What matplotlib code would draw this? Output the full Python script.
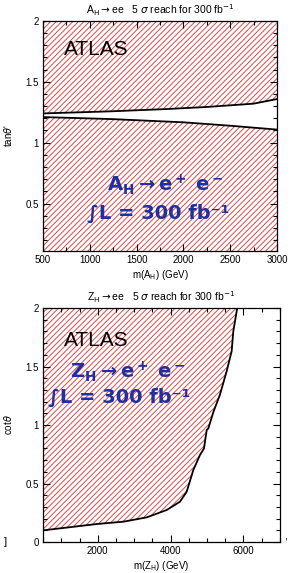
import matplotlib
matplotlib.use("Agg")
import matplotlib.pyplot as plt
import numpy as np

plt.rcParams["font.family"] = ["Liberation Sans", "DejaVu Sans"]
plt.rcParams["mathtext.fontset"] = "dejavusans"
plt.rcParams["hatch.color"] = "#e04848"
plt.rcParams["hatch.linewidth"] = 0.7

# A_H panel: boundaries of the unreachable band in tan(theta')
mA = [500, 1216, 1821, 2249, 2747, 3000]
tan_upper = [1.240, 1.257, 1.276, 1.293, 1.320, 1.358]
mA_low = [500, 1216, 2000, 2500, 3000]
tan_lower = [1.210, 1.194, 1.167, 1.139, 1.107]

# Z_H panel: 5 sigma reach boundary in cot(theta)
mZ = [500, 1973, 2703, 3344, 3893, 4257, 4441, 4622, 4806, 4916, 4990,
      5034, 5172, 5354, 5538, 5675, 5720, 5812, 5830]
cot_reach = [0.10, 0.154, 0.174, 0.211, 0.274, 0.345, 0.430, 0.615, 0.744,
             0.80, 0.957, 0.97, 1.11, 1.26, 1.46, 1.63, 1.80, 1.97, 2.0]

blue = "#2030a0"
hatch = "//////"
bkw = dict(fontsize=14, color=blue, fontweight="bold", va="center",
           family=["DejaVu Sans"])

fig = plt.figure(figsize=(2.91, 5.73), dpi=100)
ax1 = fig.add_axes([0.148, 0.562, 0.804, 0.4015])
ax2 = fig.add_axes([0.148, 0.054, 0.814, 0.4085])

# top panel
ylo, yhi = 0.11, 2.0
ax1.fill_between(mA, tan_upper, yhi, facecolor="white", hatch=hatch,
                 edgecolor="#e04848", linewidth=0)
ax1.fill_between(mA_low, ylo, tan_lower, facecolor="white", hatch=hatch,
                 edgecolor="#e04848", linewidth=0)
ax1.plot(mA, tan_upper, color="black", lw=1.3)
ax1.plot(mA_low, tan_lower, color="black", lw=1.3)
ax1.set_xlim(500, 3000)
ax1.set_ylim(ylo, yhi)
ax1.set_xticks(np.arange(500, 3001, 500))
ax1.set_xticks(np.arange(500, 3001, 250), minor=True)
ax1.set_yticks([0.5, 1, 1.5, 2])
ax1.set_yticklabels(["0.5", "1", "1.5", "2"])
ax1.set_yticks(np.arange(0.2, 2.0, 0.1), minor=True)
ax1.set_xlabel(r"m(A$_{\rm H}$) (GeV)", fontsize=7, labelpad=2)
ax1.set_ylabel(r"tan$\theta$'", fontsize=7, labelpad=8)
ax1.set_title(r"A$_{\rm H}$$\rightarrow$ee   5 $\sigma$ reach for 300 fb$^{-1}$",
              fontsize=7.5, pad=5)
ax1.text(0.09, 0.874, "ATLAS", transform=ax1.transAxes, fontsize=15, va="center")
ax1.text(0.273, 0.287, r"$\mathbf{A_H\rightarrow e^+\ e^-}$",
         transform=ax1.transAxes, **bkw)
ax1.text(0.188, 0.165, "∫L = 300 fb⁻¹", transform=ax1.transAxes, **bkw)

# bottom panel
ax2.fill_between(mZ, cot_reach, 2.0, facecolor="white", hatch=hatch,
                 edgecolor="#e04848", linewidth=0)
ax2.plot(mZ, cot_reach, color="black", lw=1.3)
ax2.set_xlim(500, 7000)
ax2.set_ylim(0, 2)
ax2.set_xticks([2000, 4000, 6000])
ax2.set_xticks(np.arange(500, 7001, 500), minor=True)
ax2.set_yticks([0, 0.5, 1, 1.5, 2])
ax2.set_yticklabels(["0", "0.5", "1", "1.5", "2"])
ax2.set_yticks(np.arange(0.1, 2.0, 0.1), minor=True)
ax2.set_xlabel(r"m(Z$_{\rm H}$) (GeV)", fontsize=7, labelpad=2)
ax2.set_ylabel(r"cot$\theta$", fontsize=7, labelpad=8)
ax2.set_title(r"Z$_{\rm H}$$\rightarrow$ee   5 $\sigma$ reach for 300 fb$^{-1}$",
              fontsize=7.5, pad=5)
ax2.text(0.09, 0.863, "ATLAS", transform=ax2.transAxes, fontsize=15, va="center")
ax2.text(0.114, 0.726, r"$\mathbf{Z_H\rightarrow e^+\ e^-}$",
         transform=ax2.transAxes, **bkw)
ax2.text(0.021, 0.62, "∫L = 300 fb⁻¹", transform=ax2.transAxes, **bkw)

for ax in (ax1, ax2):
    ax.tick_params(which="both", direction="in", top=True, right=True,
                   labelsize=7, pad=3)
    ax.tick_params(which="major", length=5, width=0.8)
    ax.tick_params(which="minor", length=3, width=0.8)
    for s in ax.spines.values():
        s.set_linewidth(0.9)

fig.text(0.012, 0.048, "]", fontsize=8)
fig.text(0.975, 0.058, ",", fontsize=8)

fig.savefig("out.png", dpi=100)
